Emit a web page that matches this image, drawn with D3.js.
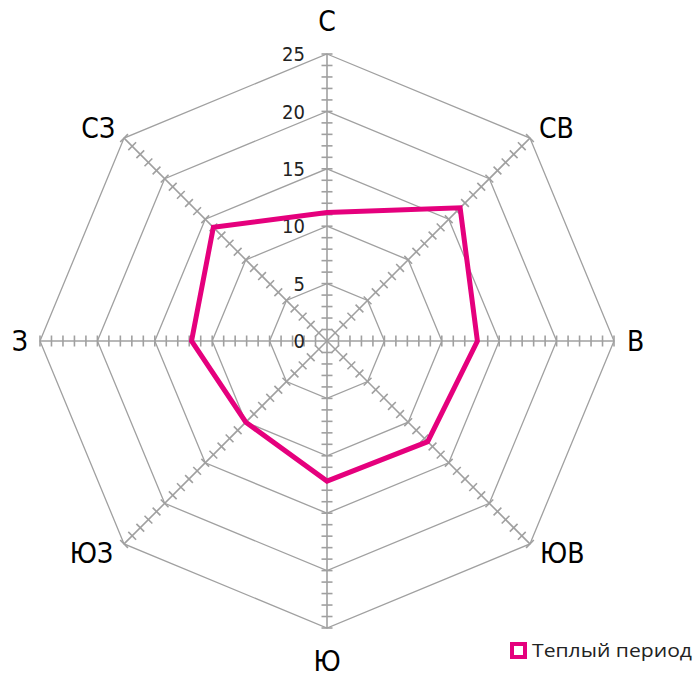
<!DOCTYPE html>
<html><head><meta charset="utf-8">
<script src="https://cdn.jsdelivr.net/npm/d3@7"></script>
<style>body{margin:0;background:#fff}</style>
</head><body>
<svg id="c" width="696" height="673"></svg>
<script>
const directions = ["С","СВ","В","ЮВ","Ю","ЮЗ","З","СЗ"];
const warmValues = [11.2, 16.4, 13.1, 12.4, 12.2, 10.0, 11.8, 14.0];
const ringTicks = [0,5,10,15,20,25];
const seriesName = "Теплый период";

const svg = d3.select("#c");
const cx = 327, cy = 341, R = 287;
const r = d3.scaleLinear().domain([0,25]).range([0,R]);
const ang = d3.scalePoint().domain(directions).range([0, 2*Math.PI*7/8]);
const pt = (d, v) => { const a = ang(d); return [cx + r(v)*Math.sin(a), cy - r(v)*Math.cos(a)]; };
const grid = "#a0a0a0";
const narrow = "'Liberation Sans Narrow', 'DejaVu Sans Condensed', 'Liberation Sans', sans-serif";
const g = svg.append("g");

// rings
ringTicks.filter(t=>t>0).forEach(t=>{
  g.append("polygon").attr("points", directions.map(d=>pt(d,t).join(",")).join(" "))
   .attr("fill","none").attr("stroke",grid).attr("stroke-width",1.3);
});
// axes + minor ticks
const minor = d3.range(1, 26);
directions.forEach(d=>{
  const [x1,y1] = pt(d,25);
  g.append("line").attr("x1",cx).attr("y1",cy).attr("x2",x1).attr("y2",y1)
   .attr("stroke",grid).attr("stroke-width",1.6);
  const a = ang(d);
  const px = Math.cos(a), py = Math.sin(a);
  minor.forEach(v=>{
    const [x,y] = pt(d,v);
    g.append("line").attr("x1",x-px*5.5).attr("y1",y-py*5.5).attr("x2",x+px*5.5).attr("y2",y+py*5.5)
     .attr("stroke",grid).attr("stroke-width",1.6);
  });
});
// tick labels
ringTicks.forEach(t=>{
  g.append("text").attr("x", cx-22).attr("y", cy - r(t)).attr("dy","0.36em")
   .attr("text-anchor","end").attr("font-family",narrow)
   .attr("font-size",20).attr("fill","#222").text(t);
});
// series
const line = d3.line().curve(d3.curveLinearClosed);
svg.append("path").attr("d", line(directions.map((d,i)=>pt(d,warmValues[i]))))
  .attr("fill","none").attr("stroke","#e5007d").attr("stroke-width",5).attr("stroke-linejoin","miter");
// direction labels
const labelPos = {
  "С":  {dx:0,   dy:-23, anchor:"middle", base:"auto"},
  "СВ": {dx:9,   dy:0,   anchor:"start",  base:"auto"},
  "В":  {dx:13,  dy:10,  anchor:"start",  base:"auto"},
  "ЮВ": {dx:10,  dy:19,  anchor:"start",  base:"auto"},
  "Ю":  {dx:0,   dy:330, anchor:"middle", base:"abs"},
  "ЮЗ": {dx:-11, dy:19,  anchor:"end",    base:"auto"},
  "З":  {dx:-12, dy:10,  anchor:"end",    base:"auto"},
  "СЗ": {dx:-9,  dy:0,   anchor:"end",    base:"auto"}
};
directions.forEach(d=>{
  const [x,y] = pt(d,25);
  const p = labelPos[d];
  const ty = p.base==="abs" ? cy + p.dy : y + p.dy;
  svg.append("text").attr("x",x+p.dx).attr("y",ty).attr("text-anchor",p.anchor)
   .attr("font-family",narrow).attr("font-size",28).attr("fill","#000").text(d);
});
// legend
svg.append("rect").attr("x",512).attr("y",644).attr("width",13).attr("height",13)
  .attr("fill","#fff").attr("stroke","#e5007d").attr("stroke-width",4);
svg.append("text").attr("x",532).attr("y",651).attr("dy","0.36em")
  .attr("font-family","'Open Sans', sans-serif").attr("font-size",18).attr("fill","#222")
  .attr("textLength",160).attr("lengthAdjust","spacingAndGlyphs").text(seriesName);
</script>
</body></html>
